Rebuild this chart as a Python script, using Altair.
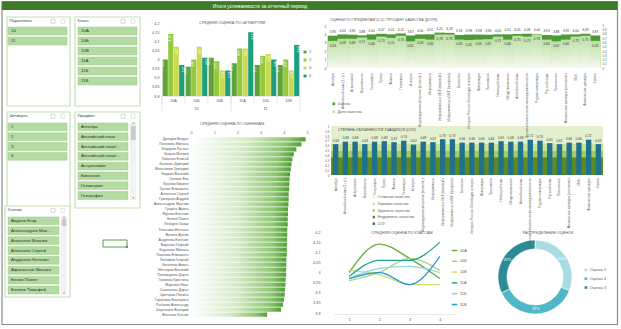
import altair as alt
import pandas as pd

FONT = "Liberation Sans"
SYM = "DejaVu Sans"
TXT = "#404040"
AX = "#595959"

HEADER = "Итоги успеваемости за отчетный период"
T_QUARTER = "СРЕДНЯЯ ОЦЕНКА ПО ЧЕТВЕРТЯМ"
T_STUDENT = "СРЕДНЯЯ ОЦЕНКА ПО УЧЕНИКАМ"
T_SUBJECT = "ОЦЕНКИ ПО ПРЕДМЕТАМ (1-5) / ПРОЦЕНТ КАЧЕСТВА (ДОЛЯ)"
T_SOU = "СТЕПЕНЬ ОБУЧЕННОСТИ УЧАЩИХСЯ (СОУ)"
T_CLASS = "СРЕДНЯЯ ОЦЕНКА ПО КЛАССАМ"
T_DONUT = "РАСПРЕДЕЛЕНИЕ ОЦЕНОК"

# ---- slicers
PARALLELS = ["10", "11"]
CLASSES = ["10А", "10Б", "10В", "11А", "11Б", "11В"]
QUARTERS = ["1", "2", "3", "4"]
SUBJECT_ITEMS = ["Алгебра", "Английский язык", "Английский язык/...", "Английский язык/...",
                 "Астрономия", "Биология", "Геометрия", "География"]
STUDENT_ITEMS = ["Авдеев Егор", "Александров Мак...", "Алексеев Максим", "Алексеев Сергей",
                 "Андреева Евгения", "Афанасьев Михаил", "Белов Павел", "Беляев Тимофей"]

# ---- average grade by quarter, per class
AVG_10A = [4.00, 4.14, 4.07, 3.97]
AVG_10B = [3.96, 4.00, 4.07, 4.01]
AVG_10V = [4.01, 3.99, 3.94, 3.94]
AVG_11A = [3.98, 4.06, 4.06, 4.15]
AVG_11B = [3.97, 4.02, 4.03, 4.00]
AVG_11V = [3.97, 4.00, 3.94, 4.08]
AVG_TICKS = [3.8, 3.85, 3.9, 3.95, 4.0, 4.05, 4.1, 4.15, 4.2]
PAR_ANCHOR = ["10Б", "11Б"]

# ---- average grade by student
STUDENTS = ["Дроздов Богдан", "Полякова Милана", "Федоров Руслан", "Зверев Матвей", "Ковалев Елисей",
            "Калинин Дмитрий", "Мельников Григорий", "Наумов Василий", "Орлова Ева", "Крылов Кирилл",
            "Гусева Елизавета", "Алексеев Сергей", "Григорьев Андрей", "Александров Максим", "Гущина Арина",
            "Жукова Евгения", "Белов Павел", "Лебедев Захар", "Тихонова Наталья", "Волков Артём",
            "Андреева Евгения", "Воронин Георгий", "Федотова Милана", "Павлова Елизавета", "Любимов Георгий",
            "Киселёва Алиса", "Нестеров Василий", "Пономарёва Дарья", "Громова Кристина", "Морозов Иван",
            "Савельева Дарья", "Цветкова Полина", "Горшкова Екатерина", "Рыбаков Александр",
            "Чернышёв Валерий", "Власова Ксения"]
STUDENT_AVG = [4.94, 4.76, 4.54, 4.43, 4.37, 4.33, 4.30, 4.27, 4.25, 4.24, 4.23, 4.21, 4.21, 4.20,
               4.18, 4.18, 4.17, 4.17, 4.15, 4.15, 4.14, 4.14, 4.13, 4.13, 4.11, 4.11, 4.10, 4.10,
               4.08, 4.07, 4.05, 4.04, 4.01, 3.97, 3.88, 3.28]
STUDENT_TICKS = [0, 1, 2, 3, 4, 5]

# ---- subjects
SUBJECTS = ["Алгебра", "Английский язык (1 гр.)", "Астрономия", "Вероятность", "География",
            "Право", "Физика", "Геометрия", "История", "Индивидуальный проект (естеств.)",
            "Информатика", "Информатика и ИКТ (базовый)", "Информатика и ИКТ (профиль)", "Биология",
            "История России. Всеобщая история", "Литература", "Экономика", "Немецкий язык",
            "Обществознание", "Английский язык", "Основы безопасности жизнедеятельности",
            "Родная литература", "Русский язык", "Технология", "Физическая культура (основная)",
            "МХК", "Физическая культура", "Химия"]
SUBJ_GRADE = [3.85, 4.00, 3.96, 3.88, 4.00, 4.07, 4.01, 4.11, 3.87, 4.00, 4.01, 4.21, 4.18, 3.94,
              3.98, 3.98, 3.96, 4.00, 4.01, 4.05, 4.08, 4.04, 3.93, 3.88, 3.99, 4.00, 4.08, 3.87]
SUBJ_QUALITY = [0.63, 0.68, 0.68, 0.71, 0.66, 0.73, 0.70, 0.75, 0.62, 0.68, 0.66, 0.78, 0.78, 0.66,
                0.65, 0.66, 0.67, 0.73, 0.66, 0.75, 0.73, 0.78, 0.66, 0.62, 0.66, 0.73, 0.75, 0.63]
SUBJ_SOU = [0.63, 0.68, 0.68, 0.63, 0.68, 0.69, 0.67, 0.70, 0.62, 0.68, 0.67, 0.73, 0.73, 0.66,
            0.66, 0.66, 0.66, 0.69, 0.68, 0.68, 0.72, 0.70, 0.65, 0.63, 0.66, 0.66, 0.72, 0.63]
GRADE_TICKS = [0, 1, 2, 3, 4, 5]
SHARE_TICKS = [0, 0.1, 0.2, 0.3, 0.4, 0.5, 0.6, 0.7, 0.8, 0.9, 1]
SERIES = ["Оценка", "Доля качества"]
SOU_LEVELS = ["Отличное качество", "Хорошее качество", "Удовлетв. качество", "Неудовлетв. качество"]
SOU_LOW = [0.64, 0.50, 0.36, 0.0]
SOU_HIGH = [1.0, 0.64, 0.50, 0.36]
SOU_NAME = "СОУ"

# ---- grade distribution
GRADE_NAMES = ["Оценка 5", "Оценка 4", "Оценка 3"]
GRADE_SHARE = [31, 37, 32]

# ---- colours
Q_COLORS = ["#5ea43a", "#95c93d", "#c9da52", "#1f9e7e"]
LINE_COLORS = ["#6aaa3e", "#a6d17c", "#cfe06a", "#23a68a", "#8fd6df", "#2c9bcf"]
DONUT_COLORS = ["#a9dce2", "#4fb7c5", "#2d8b97"]
SOU_COLORS = ["#e3f0cf", "#c8e2a0", "#a0cd5e", "#5b8a25"]
SOU_BAR = "#21708c"
GRADE_COLOR = "#4d9b34"
QUAL_COLOR = "#c3e2ab"

COMMA = "replace(format(datum.value, '~g'), '.', ',')"


def fmt2(v):
    return f"{v:.2f}".replace(".", ",")


def one():
    return pd.DataFrame({"k": [0]})


def box(x0, y0, x1, y1, fill=None, stroke=None, sw=1.0):
    kw = {}
    if fill:
        kw["fill"] = fill
    else:
        kw["fillOpacity"] = 0
    if stroke:
        kw["stroke"] = stroke
        kw["strokeWidth"] = sw
    return alt.Chart(one()).mark_rect(**kw).encode(
        x=alt.value(x0), x2=alt.value(x1), y=alt.value(y0), y2=alt.value(y1))


def text(x, y, s, size=4.0, color=TXT, align="center", font=FONT, baseline="middle"):
    return alt.Chart(pd.DataFrame({"t": [s]})).mark_text(
        font=font, fontSize=size, color=color, align=align, baseline=baseline
    ).encode(x=alt.value(x), y=alt.value(y), text="t:N")


def axis(**kw):
    base = dict(title=None, domain=False, ticks=False, tickSize=0, grid=False, labelColor=AX,
                labelFont=FONT, zindex=2, labelOverlap=False)
    base.update(kw)
    return alt.Axis(**base)


def slicer(title, items, bx, btn, y0, step, scroll=None):
    x0, yy0, x1, yy1 = bx
    n = len(items)
    out = [
        box(x0, yy0, x1, yy1, fill="white", stroke="#c6e0b4", sw=1.2),
        text(x0 + 2.5, yy0 + 4.3, title, size=4.3, align="left"),
        box(x1 - 19, yy0 + 2.3, x1 - 15, yy0 + 6.3, stroke="#b5b5b5", sw=0.5),
        box(x1 - 9, yy0 + 2.3, x1 - 5, yy0 + 6.3, stroke="#c8c8c8", sw=0.5),
    ]
    df = pd.DataFrame({"i": list(range(n)), "name": items})
    ys = alt.Scale(domain=list(range(n)), range=[y0, y0 + step * n], paddingInner=0.2, paddingOuter=0.1)
    out.append(alt.Chart(df).mark_rect(fill="#b4dba2", stroke="#9ccb86", strokeWidth=0.5).encode(
        x=alt.value(btn[0]), x2=alt.value(btn[1]), y=alt.Y("i:O", scale=ys, axis=None)))
    out.append(alt.Chart(df).mark_text(font=FONT, fontSize=4.4, color="#333333", align="left").encode(
        x=alt.value(btn[0] + 3), y=alt.Y("i:O", scale=ys, axis=None), text="name:N"))
    if scroll:
        sx0, sx1, sy0, sy1, t0, t1 = scroll
        out.append(box(sx0, sy0, sx1, sy1, fill="#f2f2f2"))
        out.append(box(sx0 + 0.8, t0, sx1 - 0.8, t1, fill="#cacaca"))
        out.append(text((sx0 + sx1) / 2, sy0 + 1.5, "▲", size=2.6, color="#9a9a9a", font=SYM))
        out.append(text((sx0 + sx1) / 2, sy1 - 1.5, "▼", size=2.6, color="#9a9a9a", font=SYM))
    return out


layers = []
# frame and header
layers.append(box(2, 1.5, 617.5, 324.5, stroke="#8a8a8a", sw=1.2))
layers.append(box(2, 1.5, 617.5, 10, fill="#3e7b27"))
layers.append(text(260, 6, HEADER, size=5, color="white"))

# slicers
layers += slicer("Параллель", PARALLELS, (7, 17, 70, 106), (8, 67), 26, 10)
layers += slicer("Класс", CLASSES, (75, 17, 140, 106), (78, 137), 26, 10)
layers += slicer("Четверть", QUARTERS, (7, 112, 70, 208), (8, 67), 122, 9.8)
layers += slicer("Предмет", SUBJECT_ITEMS, (75, 112, 140, 208), (78, 128), 122, 9.8,
                 scroll=(130, 136.5, 122, 200, 126, 140))
layers += slicer("Ученик", STUDENT_ITEMS, (5, 206, 70, 297), (8, 59), 216, 9.86,
                 scroll=(61, 67, 216, 295, 219, 226))
# selected cell
layers.append(box(103, 240, 127, 247, stroke="#5f9a52", sw=1))
layers.append(box(125.8, 245.8, 128, 248, fill="#5f9a52"))

# ---------------- quarter chart
CLASS_AVGS = [AVG_10A, AVG_10B, AVG_10V, AVG_11A, AVG_11B, AVG_11V]
qdf = pd.DataFrame([{"cls": c, "q": q, "v": v, "base": 3.8, "lbl": fmt2(v)}
                    for c, vals in zip(CLASSES, CLASS_AVGS) for q, v in zip(QUARTERS, vals)])
q_xs = alt.Scale(domain=CLASSES, range=[162, 300], paddingInner=0, paddingOuter=0)
q_os = alt.Scale(domain=QUARTERS, paddingInner=0.06, paddingOuter=0.12)
q_ys = alt.Scale(domain=[3.8, 4.2], range=[96, 23], zero=False, nice=False)

layers.append(text(232, 23, T_QUARTER, size=3.8, color=AX))
layers.append(alt.Chart(qdf).mark_bar().encode(
    x=alt.X("cls:N", sort=None, scale=q_xs, axis=axis(
        orient="bottom", offset=-233, domain=True, domainColor="#d9d9d9", domainWidth=0.6,
        labelFontSize=3.8, labelPadding=2.5, labelAngle=0)),
    xOffset=alt.XOffset("q:N", scale=q_os),
    y=alt.Y("v:Q", scale=q_ys, axis=axis(
        orient="left", offset=-161, values=AVG_TICKS, labelExpr=COMMA,
        labelFontSize=3.8, labelPadding=2, labelFlush=False)),
    y2="base",
    color=alt.Color("q:N", scale=alt.Scale(domain=QUARTERS, range=Q_COLORS), legend=alt.Legend(
        orient="none", legendX=303, legendY=50, title=None, symbolType="square", symbolSize=9,
        symbolStrokeWidth=0, labelFontSize=4, labelColor=AX, rowPadding=4, labelOffset=2, padding=0)),
))
layers.append(alt.Chart(qdf).mark_text(angle=270, align="right", baseline="middle", dx=-1.5,
                                       fontSize=3.0, color="white", font=FONT).encode(
    x=alt.X("cls:N", sort=None, scale=q_xs, axis=None),
    xOffset=alt.XOffset("q:N", scale=q_os),
    y=alt.Y("v:Q", scale=q_ys, axis=None),
    text="lbl:N"))
layers.append(alt.Chart(pd.DataFrame({"cls": CLASSES})).mark_rule(color="#d9d9d9", strokeWidth=0.6).encode(
    x=alt.X("cls:N", sort=None, scale=q_xs, axis=None, bandPosition=0), y=alt.value(96), y2=alt.value(105)))
layers.append(alt.Chart(pd.DataFrame({"cls": [CLASSES[0], CLASSES[3]]})).mark_rule(
    color="#d9d9d9", strokeWidth=0.6).encode(
    x=alt.X("cls:N", sort=None, scale=q_xs, axis=None, bandPosition=0), y=alt.value(96), y2=alt.value(113)))
layers.append(alt.Chart(pd.DataFrame({"cls": [CLASSES[-1]]})).mark_rule(
    color="#d9d9d9", strokeWidth=0.6).encode(
    x=alt.X("cls:N", sort=None, scale=q_xs, axis=None, bandPosition=1), y=alt.value(96), y2=alt.value(113)))
layers.append(alt.Chart(pd.DataFrame({"cls": PAR_ANCHOR, "par": PARALLELS})).mark_text(
    fontSize=3.8, color=AX, font=FONT).encode(
    x=alt.X("cls:N", sort=None, scale=q_xs, axis=None), y=alt.value(109), text="par:N"))

# ---------------- student chart
sdf = pd.DataFrame({"name": STUDENTS, "v": STUDENT_AVG, "base": 0})
s_ys = alt.Scale(domain=STUDENTS, range=[137, 317], paddingInner=0.15, paddingOuter=0.05)
s_xs = alt.Scale(domain=[0, 5], range=[191, 307], nice=False)
layers.append(text(232, 124, T_STUDENT, size=3.8, color=AX))
layers.append(alt.Chart(sdf).mark_bar(color=alt.Gradient(
    gradient="linear", stops=[alt.GradientStop(color="#ffffff", offset=0),
                              alt.GradientStop(color="#d3eac5", offset=0.5),
                              alt.GradientStop(color="#8ec673", offset=0.85),
                              alt.GradientStop(color="#52a038", offset=1)],
    x1=0, x2=1, y1=0, y2=0)).encode(
    y=alt.Y("name:N", sort=None, scale=s_ys, axis=axis(
        orient="left", offset=-190, labelFontSize=3.5, labelPadding=2)),
    x=alt.X("v:Q", scale=s_xs, axis=axis(
        orient="top", offset=-135, values=STUDENT_TICKS, labelFontSize=3.8, labelPadding=1,
        labelFlush=False)),
    x2="base"))

# ---------------- subject chart (grade + quality share)
subdf = pd.DataFrame({"subj": SUBJECTS, "grade": SUBJ_GRADE, "qual": SUBJ_QUALITY, "sou": SUBJ_SOU,
                      "base": 0, "series": SERIES[0],
                      "glbl": [fmt2(v) for v in SUBJ_GRADE], "qlbl": [fmt2(v) for v in SUBJ_QUALITY],
                      "slbl": [fmt2(v) for v in SUBJ_SOU]})
sub_xs = alt.Scale(domain=SUBJECTS, range=[328, 600], paddingInner=0, paddingOuter=0)
g_ys = alt.Scale(domain=[0, 5], range=[68, 26], nice=False)
p_ys = alt.Scale(domain=[0, 1], range=[68, 25], nice=False)

layers.append(text(330, 20, T_SUBJECT, size=3.6, color=AX, align="left"))
layers.append(alt.Chart(subdf).mark_bar(width={"band": 1.06}).encode(
    x=alt.X("subj:N", sort=None, scale=sub_xs, axis=axis(
        orient="bottom", offset=-260, labelAngle=270, labelFontSize=3.3, labelPadding=4, labelLimit=200)),
    y=alt.Y("grade:Q", scale=g_ys, axis=axis(
        orient="left", offset=-328, values=GRADE_TICKS, labelFontSize=3.5, labelPadding=2,
        labelFlush=False)),
    y2="base",
    color=alt.Color("series:N", scale=alt.Scale(domain=SERIES, range=[GRADE_COLOR, QUAL_COLOR]),
                    legend=alt.Legend(orient="none", legendX=332, legendY=102, title=None,
                                      symbolType="square", symbolSize=7, symbolStrokeWidth=0,
                                      labelFontSize=3.6, labelColor=AX, rowPadding=3, labelOffset=2,
                                      padding=0))))
layers.append(alt.Chart(subdf).mark_bar(width={"band": 1.06}, color=alt.Gradient(
    gradient="linear", stops=[alt.GradientStop(color="#bcdfa4", offset=0),
                              alt.GradientStop(color="#f4faef", offset=1)],
    x1=0, x2=0, y1=0, y2=1)).encode(
    x=alt.X("subj:N", sort=None, scale=sub_xs, axis=None),
    y=alt.Y("qual:Q", scale=p_ys, axis=axis(
        orient="right", offset=-21, values=SHARE_TICKS, labelExpr=COMMA,
        labelFontSize=3.0, labelPadding=2, labelFlush=False)),
    y2="base"))
layers.append(alt.Chart(subdf).mark_text(baseline="bottom", dy=-2, fontSize=3.2, color=TXT, font=FONT).encode(
    x=alt.X("subj:N", sort=None, scale=sub_xs, axis=None),
    y=alt.Y("grade:Q", scale=g_ys, axis=None), text="glbl:N"))
layers.append(alt.Chart(subdf).mark_text(baseline="top", dy=2.5, fontSize=3.2, color=TXT, font=FONT).encode(
    x=alt.X("subj:N", sort=None, scale=sub_xs, axis=None),
    y=alt.Y("qual:Q", scale=p_ys, axis=None), text="qlbl:N"))

# ---------------- SOU chart
sou_xs = alt.Scale(domain=SUBJECTS, range=[331, 603], paddingInner=0.45, paddingOuter=0.2)
sou_ys = alt.Scale(domain=[0, 1], range=[175, 126], nice=False)
bands = pd.DataFrame({"lvl": SOU_LEVELS, "lo": SOU_LOW, "hi": SOU_HIGH})
layers.append(alt.Chart(bands).mark_rect().encode(
    x=alt.value(331), x2=alt.value(603),
    y=alt.Y("lo:Q", scale=sou_ys, axis=None), y2="hi",
    color=alt.Color("lvl:N", scale=alt.Scale(domain=SOU_LEVELS + [SOU_NAME], range=SOU_COLORS + [SOU_BAR]),
                    legend=alt.Legend(orient="none", legendX=372, legendY=195.5, title=None,
                                      symbolType="square", symbolSize=6, symbolStrokeWidth=0,
                                      labelFontSize=3.6, labelColor=AX, rowPadding=1.6, labelOffset=2,
                                      padding=0))))
layers.append(text(338, 130, T_SOU, size=3.6, color=TXT, align="left"))
layers.append(alt.Chart(subdf).mark_bar(color=SOU_BAR).encode(
    x=alt.X("subj:N", sort=None, scale=sou_xs, axis=axis(
        orient="bottom", offset=-153, labelAngle=270, labelFontSize=3.3, labelPadding=2, labelLimit=200)),
    y=alt.Y("sou:Q", scale=sou_ys, axis=axis(
        orient="left", offset=-331, values=SHARE_TICKS, labelExpr=COMMA,
        labelFontSize=3.0, labelPadding=2, labelFlush=False)),
    y2="base"))
layers.append(alt.Chart(subdf).mark_text(baseline="bottom", dy=-1.5, fontSize=3.2, color=TXT, font=FONT).encode(
    x=alt.X("subj:N", sort=None, scale=sou_xs, axis=None),
    y=alt.Y("sou:Q", scale=sou_ys, axis=None), text="slbl:N"))

# ---------------- line chart by class
ldf = pd.DataFrame([{"cls": c, "q": q, "v": v}
                    for c, vals in zip(CLASSES, CLASS_AVGS) for q, v in zip(QUARTERS, vals)])
layers.append(text(402, 233, T_CLASS, size=3.8, color=AX))
layers.append(alt.Chart(ldf).mark_line(interpolate="monotone", strokeWidth=1.3).encode(
    x=alt.X("q:O", scale=alt.Scale(type="point", domain=QUARTERS, range=[334, 455], padding=0.5),
            axis=axis(orient="bottom", offset=-15, domain=True, domainColor="#d9d9d9",
                      domainWidth=0.6, labelAngle=0, labelFontSize=3.8, labelPadding=3)),
    y=alt.Y("v:Q", scale=alt.Scale(domain=[3.8, 4.2], range=[313, 232], zero=False, nice=False),
            axis=axis(orient="left", offset=-322, values=AVG_TICKS, labelExpr=COMMA,
                      labelFontSize=3.8, labelPadding=2, labelFlush=False)),
    color=alt.Color("cls:N", scale=alt.Scale(domain=CLASSES, range=LINE_COLORS), legend=alt.Legend(
        orient="none", legendX=451, legendY=247, title=None, symbolType="stroke", symbolStrokeWidth=1.5,
        symbolSize=30, labelFontSize=3.8, labelColor=AX, rowPadding=3.8, labelOffset=2, padding=0)),
    order="q:O"))

# ---------------- donut
ddf = pd.DataFrame({"g": GRADE_NAMES, "p": GRADE_SHARE, "o": [0, 1, 2],
                    "pl": [f"{v}%" for v in GRADE_SHARE]})
layers.append(text(548, 233, T_DONUT, size=3.8, color=AX))
layers.append(alt.Chart(ddf).mark_arc(innerRadius=28, outerRadius=37, stroke="white", strokeWidth=0.6).encode(
    theta=alt.Theta("p:Q", stack=True), order=alt.Order("o:Q"),
    color=alt.Color("g:N", scale=alt.Scale(domain=GRADE_NAMES, range=DONUT_COLORS), legend=alt.Legend(
        orient="none", legendX=584, legendY=268, title=None, symbolType="square", symbolSize=7,
        symbolStrokeWidth=0, labelFontSize=3.8, labelColor=AX, rowPadding=3.8, labelOffset=2, padding=0)),
    x=alt.value(535), y=alt.value(277)))
layers.append(alt.Chart(ddf).mark_text(radius=32.5, fontSize=3.8, color="white", font=FONT).encode(
    theta=alt.Theta("p:Q", stack=True), order=alt.Order("o:Q"), text="pl:N",
    x=alt.value(535), y=alt.value(277)))

chart = alt.layer(*layers).resolve_scale(
    x="independent", y="independent", color="independent", xOffset="independent", theta="independent"
).properties(
    width=621, height=329, padding=0, autosize=alt.AutoSizeParams(type="none"), background="white"
).configure_view(stroke=None).configure_axis(labelFont=FONT).configure_legend(labelFont=FONT)

chart.save("out.html", embed_options={"renderer": "svg", "actions": False})
